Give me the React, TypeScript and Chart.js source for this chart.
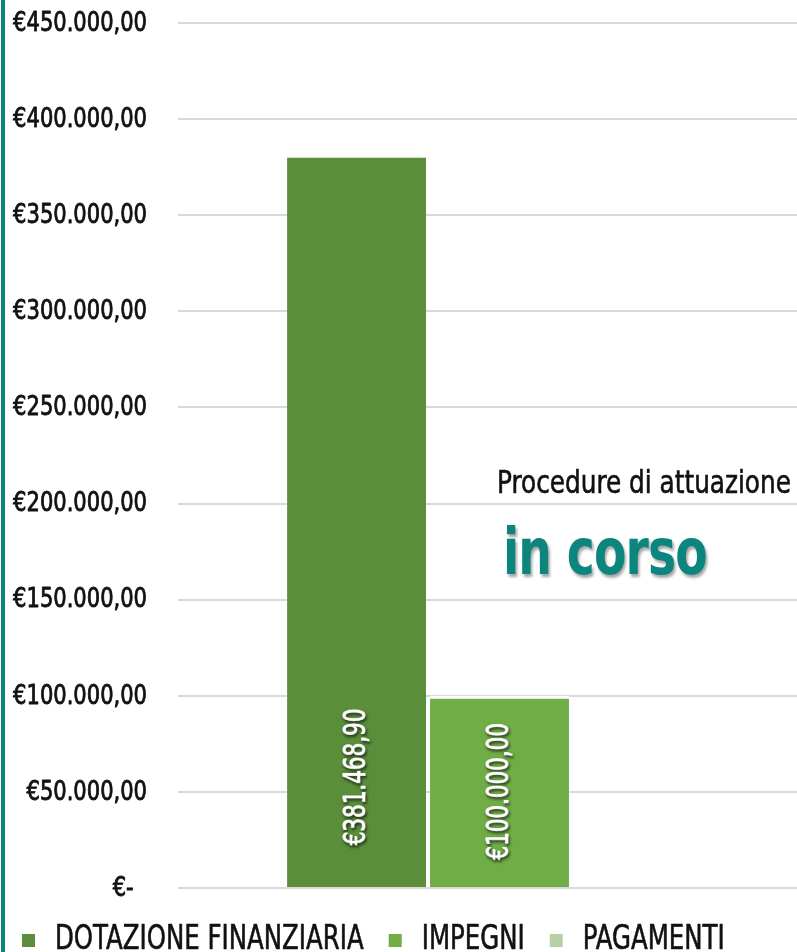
import React, { useEffect, useRef } from "react";
import { Chart, registerables } from "chart.js";

Chart.register(...registerables);

const categories: string[] = [""];
const seriesNames: string[] = ["DOTAZIONE FINANZIARIA", "IMPEGNI", "PAGAMENTI"];
const dotazioneValues: number[] = [381468.9];
const impegniValues: number[] = [100000];
const pagamentiValues: number[] = [0];
const seriesColors: string[] = ["#5a8e3a", "#70ad47", "#b5d2a5"];
const yTickLabels: string[] = [
  "€-",
  "€50.000,00",
  "€100.000,00",
  "€150.000,00",
  "€200.000,00",
  "€250.000,00",
  "€300.000,00",
  "€350.000,00",
  "€400.000,00",
  "€450.000,00",
];
const noteLine1 = "Procedure di attuazione";
const noteLine2 = "in corso";

const FONT = "'DejaVu Sans Condensed', 'DejaVu Sans', sans-serif";
const TEAL = "#0b857e";

function formatEuro(v: number): string {
  const fixed = v.toFixed(2);
  const [intPart, dec] = fixed.split(".");
  const withDots = intPart.replace(/\B(?=(\d{3})+(?!\d))/g, ".");
  return "€" + withDots + "," + dec;
}

function drawNarrow(
  ctx: CanvasRenderingContext2D,
  text: string,
  x: number,
  y: number,
  sx: number,
  align: CanvasTextAlign,
  stroke: number
) {
  ctx.save();
  ctx.translate(x, y);
  ctx.scale(sx, 1);
  ctx.textAlign = align;
  if (stroke > 0) {
    ctx.lineWidth = stroke;
    ctx.lineJoin = "round";
    ctx.strokeStyle = ctx.fillStyle as string;
    ctx.strokeText(text, 0, 0);
  }
  ctx.fillText(text, 0, 0);
  ctx.restore();
}

const yLabelPlugin = {
  id: "yLabels",
  afterDraw(chart: any) {
    const ctx: CanvasRenderingContext2D = chart.ctx;
    const scale = chart.scales.y;
    ctx.save();
    ctx.font = `26px ${FONT}`;
    ctx.fillStyle = "#111111";
    ctx.textBaseline = "middle";
    scale.ticks.forEach((_t: any, i: number) => {
      const y = scale.getPixelForTick(i) + 1;
      const label = i === 0 ? yTickLabels[0] + "  " : yTickLabels[i];
      drawNarrow(ctx, label, scale.right - 31, y, 0.9, "right", 0.8);
    });
    ctx.restore();
  },
};

const legendPlugin = {
  id: "customLegend",
  afterDraw(chart: any) {
    const ctx: CanvasRenderingContext2D = chart.ctx;
    const sx = 0.8;
    const y = chart.chartArea.bottom + 52;
    let x = 22;
    ctx.save();
    ctx.font = `34px ${FONT}`;
    ctx.textBaseline = "middle";
    chart.data.datasets.forEach((ds: any) => {
      ctx.fillStyle = ds.backgroundColor;
      ctx.fillRect(x, y - 6, 13, 13);
      x += 13 + 20;
      ctx.fillStyle = "#111111";
      drawNarrow(ctx, ds.label, x, y, sx, "left", 0.6);
      x += ctx.measureText(ds.label).width * sx + 25;
    });
    ctx.restore();
  },
};

const barLabelPlugin = {
  id: "barLabels",
  afterDatasetsDraw(chart: any) {
    const ctx: CanvasRenderingContext2D = chart.ctx;
    chart.data.datasets.forEach((ds: any, i: number) => {
      const meta = chart.getDatasetMeta(i);
      meta.data.forEach((el: any, j: number) => {
        const v = ds.data[j];
        if (!v) return;
        const props = el.getProps(["x", "y", "base"], true);
        const top = Math.max(props.y, props.base - 220);
        const cy = (props.base + top) / 2;
        ctx.save();
        ctx.translate(props.x, cy);
        ctx.rotate(-Math.PI / 2);
        ctx.scale(0.77, 1);
        ctx.font = `31px ${FONT}`;
        ctx.fillStyle = "#ffffff";
        ctx.strokeStyle = "#ffffff";
        ctx.lineWidth = 1.2;
        ctx.lineJoin = "round";
        ctx.textAlign = "center";
        ctx.textBaseline = "middle";
        ctx.shadowColor = "rgba(0,0,0,0.55)";
        ctx.shadowBlur = 3;
        ctx.shadowOffsetX = 1;
        ctx.shadowOffsetY = 2;
        ctx.strokeText(formatEuro(v), 0, 0);
        ctx.fillText(formatEuro(v), 0, 0);
        ctx.restore();
      });
    });
  },
};

export default function App() {
  const canvasRef = useRef<HTMLCanvasElement | null>(null);

  useEffect(() => {
    if (!canvasRef.current) return;
    const chart = new Chart(canvasRef.current, {
      type: "bar",
      data: {
        labels: categories,
        datasets: [
          { label: seriesNames[0], data: dotazioneValues, backgroundColor: seriesColors[0] },
          { label: seriesNames[1], data: impegniValues, backgroundColor: seriesColors[1] },
          { label: seriesNames[2], data: pagamentiValues, backgroundColor: seriesColors[2] },
        ],
      },
      options: {
        animation: false,
        responsive: false,
        devicePixelRatio: 1,
        layout: { padding: { top: 23, bottom: 64, left: 0, right: 0 } },
        datasets: {
          bar: {
            categoryPercentage: 0.667,
            barPercentage: 0.972,
            borderWidth: { top: 3, right: 0, bottom: 0, left: 0 },
            borderColor: "#ffffff",
          },
        },
        plugins: {
          legend: { display: false },
          tooltip: { enabled: false },
        },
        scales: {
          x: {
            display: false,
            grid: { display: false },
          },
          y: {
            min: 0,
            max: 450000,
            ticks: {
              stepSize: 50000,
              display: false,
            },
            grid: { color: "#d9d9d9", lineWidth: 2, drawTicks: false },
            border: { display: false },
            afterFit: (scale: any) => {
              scale.width = 178;
            },
          },
        },
      },
      plugins: [barLabelPlugin, yLabelPlugin, legendPlugin],
    });
    return () => chart.destroy();
  }, []);

  return (
    <div
      style={{
        position: "fixed",
        left: 0,
        top: 0,
        width: 797,
        height: 952,
        overflow: "hidden",
        background: "#ffffff",
        fontFamily: FONT,
      }}
    >
      <div style={{ position: "absolute", left: 0, top: 0, width: 821, height: 952 }}>
        <canvas ref={canvasRef} width={821} height={952} style={{ width: 821, height: 952 }} />
      </div>
      <div style={{ position: "absolute", left: 1, top: 0, width: 4, height: 952, background: TEAL }} />
      <div
        style={{
          position: "absolute",
          left: 497,
          top: 463,
          fontSize: 32,
          lineHeight: "38px",
          color: "#111111",
          whiteSpace: "nowrap",
          WebkitTextStroke: "0.6px #111111",
          transform: "scaleX(0.86)",
          transformOrigin: "left top",
        }}
      >
        {noteLine1}
      </div>
      <div
        style={{
          position: "absolute",
          left: 503,
          top: 514,
          fontSize: 64,
          lineHeight: "76px",
          fontWeight: "bold",
          color: TEAL,
          whiteSpace: "nowrap",
          letterSpacing: -1,
          textShadow: "2px 3px 3px rgba(0,0,0,0.35)",
          transform: "scaleX(0.82)",
          transformOrigin: "left top",
        }}
      >
        {noteLine2}
      </div>
    </div>
  );
}
